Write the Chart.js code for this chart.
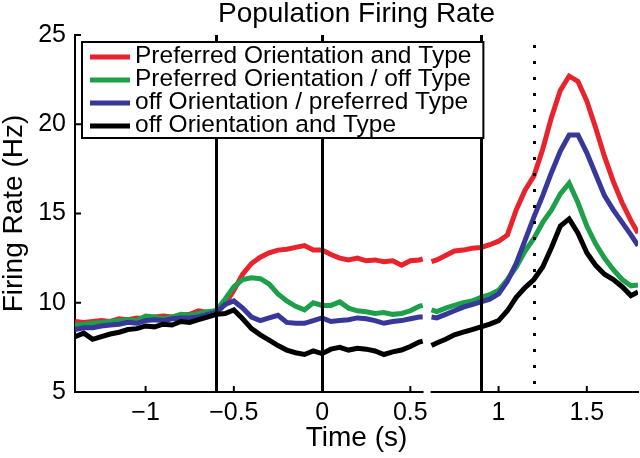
<!DOCTYPE html>
<html>
<head>
<meta charset="utf-8">
<script src="https://cdn.jsdelivr.net/npm/chart.js@4.4.1/dist/chart.umd.min.js"></script>
<style>
  html, body { margin: 0; padding: 0; background: #fff; }
</style>
</head>
<body>
<canvas id="firingChart" width="640" height="458"></canvas>
<script>
// time axis (s); 0.60 is the break between the two recording windows
const times = [
  -1.40, -1.35, -1.30, -1.25, -1.20, -1.15, -1.10, -1.05, -1.00, -0.95,
  -0.90, -0.85, -0.80, -0.75, -0.70, -0.65, -0.60, -0.55, -0.50, -0.45,
  -0.40, -0.35, -0.30, -0.25, -0.20, -0.15, -0.10, -0.05, 0.00, 0.05,
  0.10, 0.15, 0.20, 0.25, 0.30, 0.35, 0.40, 0.45, 0.50, 0.55,
  0.57, 0.60, 0.62, 0.65, 0.70, 0.75, 0.80, 0.85, 0.90, 0.95,
  1.00, 1.05, 1.10, 1.15, 1.20, 1.25, 1.30, 1.35, 1.40, 1.45,
  1.50, 1.55, 1.60, 1.65, 1.70, 1.75, 1.79
];

// firing rates (Hz)
const prefBoth = [
  8.95, 8.9, 8.95, 9.0, 8.95, 9.1, 9.05, 9.15, 9.1, 9.2,
  9.25, 9.2, 9.3, 9.35, 9.55, 9.45, 9.55, 9.9, 10.7, 11.6,
  12.2, 12.55, 12.8, 12.95, 13.0, 13.1, 13.2, 12.95, 12.95, 12.7,
  12.5, 12.4, 12.5, 12.35, 12.4, 12.3, 12.35, 12.1, 12.35, 12.4,
  12.45, null, 12.3, 12.4, 12.65, 12.9, 12.95, 13.05, 13.1, 13.25,
  13.45, 13.8, 15.2, 16.3, 17.1, 18.6, 20.4, 21.9, 22.7, 22.4,
  21.3, 19.8, 18.2, 16.8, 15.6, 14.6, 13.9
];
const prefOrientOffType = [
  8.75, 8.8, 8.85, 8.9, 8.95, 9.0, 9.05, 9.0, 9.25, 9.2,
  9.1, 9.2, 9.35, 9.3, 9.4, 9.5, 9.55, 10.2, 10.9, 11.3,
  11.4, 11.35, 11.05, 10.5, 10.1, 9.8, 9.6, 10.0, 9.85, 9.85,
  10.05, 9.7, 9.55, 9.5, 9.4, 9.45, 9.35, 9.4, 9.55, 9.8,
  9.85, null, 9.6, 9.5, 9.7, 9.85, 10.0, 10.1, 10.3, 10.45,
  10.7, 11.3, 12.0, 12.9, 13.6, 14.5, 15.2, 16.1, 16.7, 15.6,
  14.3, 13.3, 12.5, 11.85, 11.3, 10.95, 11.0
];
const offOrientPrefType = [
  8.5, 8.6, 8.6, 8.7, 8.75, 8.8, 8.9, 8.85, 9.0, 9.05,
  9.0, 9.1, 9.15, 9.15, 9.2, 9.35, 9.45, 9.9, 10.1, 9.7,
  9.2, 9.0, 9.15, 9.3, 8.9, 8.85, 8.85, 9.0, 9.15, 8.95,
  9.0, 9.05, 9.15, 9.1, 9.0, 8.85, 8.95, 9.0, 9.1, 9.2,
  9.2, null, 9.2, 9.15, 9.35, 9.55, 9.75, 9.9, 10.05, 10.2,
  10.5, 11.2, 12.2, 13.5, 14.8, 16.0, 17.3, 18.5, 19.4, 19.4,
  18.4, 17.2, 16.0, 15.2, 14.5, 13.8, 13.2
];
const offBoth = [
  8.1, 8.3, 7.95, 8.1, 8.25, 8.35, 8.5, 8.55, 8.7, 8.65,
  8.8, 8.75, 8.95, 8.9, 9.05, 9.2, 9.35, 9.4, 9.6, 9.1,
  8.55, 8.2, 7.9, 7.6, 7.35, 7.2, 7.1, 7.3, 7.15, 7.4,
  7.5, 7.35, 7.45, 7.4, 7.3, 7.1, 7.25, 7.35, 7.55, 7.8,
  7.85, null, 7.6, 7.75, 7.95, 8.2, 8.35, 8.5, 8.65, 8.8,
  9.0, 9.55, 10.3, 10.85, 11.3, 12.0, 13.1, 14.3, 14.7, 13.9,
  12.8, 12.1, 11.6, 11.3, 10.9, 10.4, 10.6
];

const seriesNames = [
  'Preferred Orientation and Type',
  'Preferred Orientation / off Type',
  'off Orientation / preferred Type',
  'off Orientation and Type'
];
const seriesValues = [prefBoth, prefOrientOffType, offOrientPrefType, offBoth];
const seriesColors = ['#e8232b', '#1ea04b', '#38389a', '#000000'];

// event markers (s)
const eventTimes = [-0.6, 0, 0.9];
const cueTime = 1.2;
const axisBreak = [0.575, 0.615];

const FONT = '"Liberation Sans", Arial, Helvetica, sans-serif';

// --- marker lines, inward ticks and axis break ---
const markerPlugin = {
  id: 'markers',
  afterDatasetsDraw(chart) {
    const { ctx, chartArea } = chart;
    const xs = chart.scales.x;
    const ys = chart.scales.y;
    ctx.save();
    ctx.strokeStyle = '#000';
    ctx.lineWidth = 3;
    eventTimes.forEach(t => {
      const px = Math.round(xs.getPixelForValue(t)) + 0.5;
      ctx.beginPath();
      ctx.moveTo(px, chartArea.bottom);
      ctx.lineTo(px, chartArea.top);
      ctx.stroke();
    });
    // dotted cue line
    ctx.setLineDash([3, 13]);
    const cx = Math.round(xs.getPixelForValue(cueTime)) + 0.5;
    ctx.beginPath();
    ctx.moveTo(cx, chartArea.bottom - 8);
    ctx.lineTo(cx, chartArea.top);
    ctx.stroke();
    ctx.setLineDash([]);

    // white break in the x axis
    ctx.fillStyle = '#fff';
    const b0 = xs.getPixelForValue(axisBreak[0]);
    const b1 = xs.getPixelForValue(axisBreak[1]);
    ctx.fillRect(b0, chartArea.bottom - 3, b1 - b0, 6);

    // inward tick marks
    ctx.lineWidth = 2;
    xs.ticks.forEach(tk => {
      const px = xs.getPixelForValue(tk.value);
      ctx.beginPath();
      ctx.moveTo(px, chartArea.bottom);
      ctx.lineTo(px, chartArea.bottom - 6);
      ctx.stroke();
    });
    ys.ticks.forEach(tk => {
      const py = ys.getPixelForValue(tk.value);
      ctx.beginPath();
      ctx.moveTo(chartArea.left, py);
      ctx.lineTo(chartArea.left + 6, py);
      ctx.stroke();
    });
    ctx.restore();
  }
};

// --- boxed legend in the upper left of the plot ---
const boxLegendPlugin = {
  id: 'boxLegend',
  afterDraw(chart) {
    const { ctx, chartArea } = chart;
    const sets = chart.data.datasets;
    ctx.save();
    ctx.font = '24.5px ' + FONT;
    const x0 = chartArea.left + 7;
    const y0 = chartArea.top + 7;
    const rowH = 23;
    const textW = Math.max(...sets.map(d => ctx.measureText(d.label).width));
    const w = 53 + textW + 12;
    const h = 15 + rowH * (sets.length - 1) + 12;
    ctx.fillStyle = '#fff';
    ctx.fillRect(x0, y0, w, h);
    ctx.strokeStyle = '#000';
    ctx.lineWidth = 2;
    ctx.strokeRect(x0, y0, w, h);
    sets.forEach((d, i) => {
      const y = y0 + 15 + i * rowH;
      ctx.strokeStyle = d.borderColor;
      ctx.lineWidth = 5;
      ctx.beginPath();
      ctx.moveTo(x0 + 8, y);
      ctx.lineTo(x0 + 48, y);
      ctx.stroke();
      ctx.fillStyle = '#000';
      ctx.textBaseline = 'middle';
      ctx.textAlign = 'left';
      ctx.fillText(d.label, x0 + 53, y - 1);
    });
    ctx.restore();
  }
};

const datasets = seriesNames.map((name, i) => ({
  label: name,
  data: times.map((t, j) => ({ x: t, y: seriesValues[i][j] })),
  borderColor: seriesColors[i],
  backgroundColor: seriesColors[i],
  borderWidth: 5,
  pointRadius: 0,
  tension: 0,
  spanGaps: false,
  order: seriesNames.length - i // black drawn on top, as in the figure
}));

new Chart(document.getElementById('firingChart'), {
  type: 'line',
  data: { datasets: datasets },
  options: {
    responsive: false,
    animation: false,
    layout: { padding: { left: 0, right: 2, top: 0, bottom: 0 } },
    plugins: {
      legend: { display: false },
      tooltip: { enabled: false },
      title: {
        display: true,
        fullSize: false,
        text: 'Population Firing Rate',
        color: '#000',
        font: { family: FONT, size: 28, weight: 'normal', lineHeight: 1 },
        padding: { top: 0, bottom: 7 }
      }
    },
    scales: {
      x: {
        type: 'linear',
        min: -1.4,
        max: 1.79,
        grid: { display: false, drawTicks: false },
        border: { display: true, color: '#000', width: 2 },
        ticks: {
          stepSize: 0.5,
          includeBounds: false,
          color: '#000',
          padding: 6,
          font: { family: FONT, size: 25 },
          callback: v => (v < 0 ? '\u2212' : '') + Math.abs(v)
        },
        title: {
          display: true,
          text: 'Time (s)',
          color: '#000',
          font: { family: FONT, size: 28, lineHeight: 1 },
          padding: { top: 0, bottom: 6 }
        },
        afterFit: scale => { scale.height = 66; }
      },
      y: {
        min: 5,
        max: 25,
        grid: { display: false, drawTicks: false },
        border: { display: true, color: '#000', width: 2 },
        ticks: {
          stepSize: 5,
          color: '#000',
          padding: 9,
          font: { family: FONT, size: 25 }
        },
        title: {
          display: true,
          text: 'Firing Rate (Hz)',
          color: '#000',
          font: { family: FONT, size: 28, lineHeight: 1 },
          padding: 0
        },
        afterFit: scale => { scale.width = 75; }
      }
    }
  },
  plugins: [markerPlugin, boxLegendPlugin]
});
</script>
</body>
</html>
